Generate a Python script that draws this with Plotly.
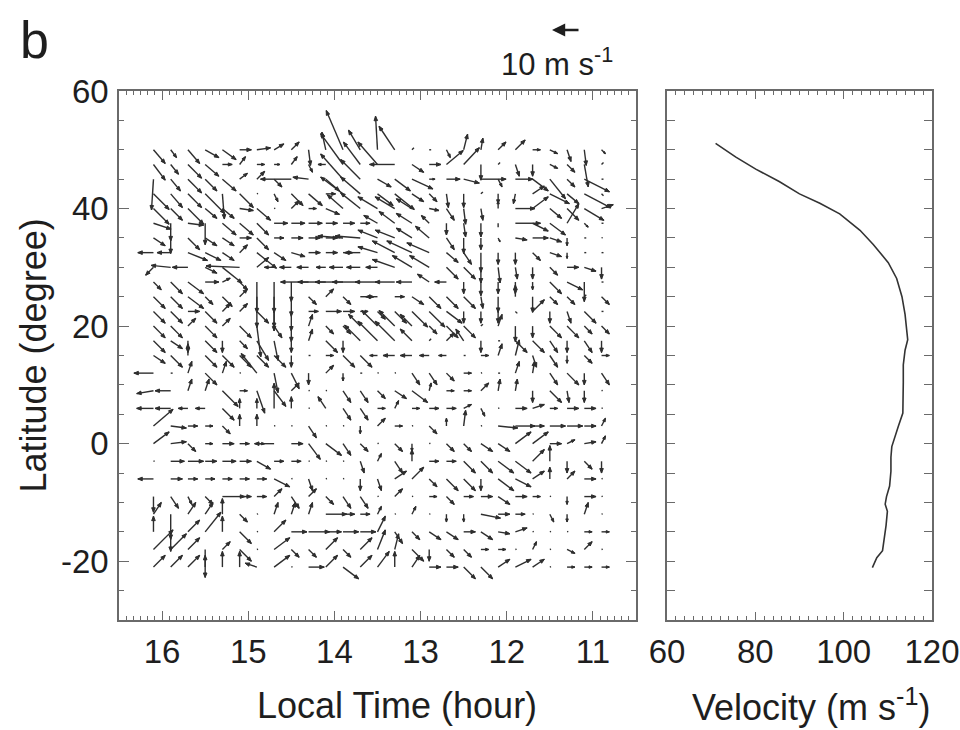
import math
import plotly.graph_objects as go

# ---------------- data ----------------
# local-time columns of the wind-vector grid (hours)
local_time = [16.1, 15.9, 15.7, 15.5, 15.3, 15.1, 14.9, 14.7, 14.5, 14.3, 14.1, 13.9, 13.7, 13.5,
              13.3, 13.1, 12.9, 12.7, 12.5, 12.3, 12.1, 11.9, 11.7, 11.5, 11.3, 11.1, 10.9]

# latitude of each grid row (degrees)
lat_rows = [50, 47.5, 45, 42.5, 40, 37.5, 35, 32.5, 30, 27.5, 25, 22.5, 20, 17.5,
            15, 12, 9, 6, 3, 0, -3, -6, -9, -12, -15, -18, -21]

# residual wind components (m/s); u positive toward earlier local time, v positive northward
u_rows = [
    [4.2, 2.1, 4.2, 4.9, 4.9, 4.2, 4.9, 3.5, 2.8, 0.7, -1.4, -6, -4.2, -0.7, -5.6, 0.7, 0.7, 1.4, 1.4, 0.7, 2.8, 3.5, 2.8, 2.8, 1.4, 0.7, 1.4],
    [4.2, 2.8, 4.9, 4.9, 3.5, 2.1, 2.8, 2.1, 2.1, 1.4, -2.8, -8, -6, -7, -9, 4.2, 4.2, 6, 5.6, 0, 0.7, 1.4, 0, 2.8, 2.8, 1.4, 0.7],
    [-0.7, 3.5, 4.9, 4.2, 4.9, 2.8, 2.8, 2.8, -11, -5.6, 4.9, -8, -7, 4.9, 5.6, 7.5, 2.1, 4.9, 5.6, 9, 1.4, 6.3, 5.6, 5.6, 2.8, 9, 0.7],
    [5.6, 4.2, 4.9, 7, 0.7, 4.9, 0.3, 1.4, 4.2, 4.9, 3.5, -8, -7, 5.6, 7, 4.2, 2.8, 0.7, 0, 0.7, 0, -0.7, 4.2, 7, 4.2, 9.5, 0.7],
    [5.6, 4.2, 5.6, 4.2, 4.2, 4.9, 4.9, 0.3, 2.8, 2.8, 4.9, -5.6, -7, -7, -7, -5.6, 3.5, 2.8, 0.7, 0.7, 0, 7, 5.6, 4.2, 4.2, 7, 4.2],
    [6.3, 0, 5.6, 0, 4.9, 4.9, 4.2, 4.9, 4.9, 4.9, 4.2, 4.2, 3.5, -4.9, -5.6, -5.6, -2.8, 0, 0.7, 0, 0, 9, 5.6, 5.6, 4.2, 1.4, 0.7],
    [4.2, 0, 4.2, 4.2, 4.2, 4.2, 4.2, 3.5, 4.2, 4.2, 4.2, -9, -9, -7, -7, -5.6, -4.9, 2.8, 0, 0, 0.7, 4.2, 5.6, 4.2, 0, 0.7, 0.3],
    [-5.6, -4.9, 7, 5.6, 4.2, 2.8, 7, 4.2, 4.9, 4.2, 4.2, 3.5, -5.6, -7, -8, -9, -8, 4.2, 2.8, 0, 0, 0, 2.8, 4.2, 0, 0.7, 0.7],
    [-2.8, -7, -5.6, 4.2, 7, -12, 4.2, -3.5, -4.2, -4.2, -3.5, -4.9, -4.9, -4.2, -8, -7, -7, 4.2, 4.2, 0, 0.7, 0.7, 0, 2.8, 4.2, 4.2, 0],
    [2.8, 4.2, 5.6, 4.9, 2.8, 2.8, 0, 0, 0, -10, -10, -10, -10, -8, -7, -5.6, -4.2, -4.2, 0, 0, 0, 0, 0, 4.2, 5.6, 0, 0.7],
    [4.2, 4.2, 5.6, 2.8, 3.5, 2.8, 0, 0, 0, 2.8, 2.8, 2.8, 4.9, -4.2, 3.5, 4.2, 4.2, 4.2, 4.2, 0.7, 0, 0, 0, 2.8, 2.8, 0.7, 2.8],
    [4.2, 4.2, 4.2, 4.2, 2.8, 2.8, 4.2, 0, 0, 3.5, 5.6, 4.2, 2.8, 2.8, 4.2, 5.6, 5.6, 5.6, 0, 0, 0, 0.7, 4.2, 0, 1.4, 4.2, 0.7],
    [4.2, 4.2, 2.8, 4.2, 2.8, 4.2, 1.4, 2.8, 0, 1.4, 2.8, 2.8, -4.2, -5.6, -5.6, -4.2, 2.8, 4.2, 4.2, 0.7, 1.4, 0, 0, 4.2, 4.2, 2.8, 2.8],
    [4.2, 4.2, 0, 4.2, 0, 2.8, 4.2, 1.4, 0, 1.4, 4.2, 0, -5.6, -7, -7, -4.2, 0.7, 2.8, -2.8, 0, 0.7, 4.2, 4.2, 2.8, 0, 2.8, 0],
    [4.2, 4.2, 0, 4.2, 4.2, 4.2, 4.2, 4.2, 0, 0.7, 2.8, 4.2, 4.2, -2.8, -4.2, -4.2, -3.5, -2.8, 0.7, 2.8, 1.4, 1.4, 1.4, 2.8, 0, 2.8, 2.8],
    [-7, 0.7, 1.4, 4.2, 1.4, 0.3, -5.6, 1.4, 2.8, 0, 2.8, 0, 0.7, 0.3, 0.3, 2.8, 2.8, 2.8, 2.8, 0.3, 0.7, 1.4, 0.7, 2.8, 4.2, 0, 2.8],
    [-6, -5.6, 1.4, 1.4, 5.6, 2.8, 2.8, 4.2, 2.8, 0.3, 0.3, 2.8, 2.8, 2.8, 4.2, 5.6, 0.7, 2.8, 2.8, 2.8, 0.7, 0.7, 0, 4.2, 0.7, 0, 0.3],
    [-6, -5.6, -3.5, -3.5, 4.2, 0, 0, 0, 0, 0.3, -2.8, 2.8, 2.8, 2.8, 1.4, 2.8, 3.5, 3.5, 2.8, 1.4, 0.3, 4.2, 4.2, 2.8, 4.2, 4.2, 0.3],
    [7, 5.6, 3.5, 2.8, 2.8, 0, 0, 0.3, 0.3, 2.8, 0.3, 0.3, 0, 2.8, 2.8, 0.3, 2.8, 0, 0.7, 0.3, 7, 7, 4.2, 5.6, 5.6, 4.2, 1.4],
    [5.6, 5.6, 2.8, 2.8, 4.2, 3.5, 2.8, -7, 4.2, 4.2, 5.6, 2.8, 2.8, 0.3, 2.8, 0, 0.3, 2.8, 2.8, 4.2, 4.2, 5.6, 5.6, 4.2, 2.8, 4.2, 1.4],
    [0.3, 4.9, 5.6, 4.2, 4.9, 4.2, 4.9, 3.5, 3.5, 0.3, 0.3, 0.3, 1.4, 1.4, 2.8, 0, 3.5, 3.5, 4.2, 4.2, 5.6, 5.6, 4.2, 0, 0, 2.8, 0],
    [-5.6, 4.2, 3.5, 3.5, 3.5, 3.5, 3.5, 5.6, 0.3, 1.4, 0.3, 0.3, 0, 1.4, 4.2, 4.2, 2.8, 4.2, 4.2, 0, 5.6, 5.6, 4.2, 0, 2.8, 4.2, 0.3],
    [0, 2.8, 1.4, 2.8, 8, 4.2, 3.5, 2.8, 2.8, 2.8, 2.8, 2.8, 2.8, 0.3, 2.8, 0.3, 2.8, 2.8, 3.5, 4.2, 4.2, 4.2, 2.8, 0.3, 0, 4.2, 0.3],
    [2.8, 0, 2.8, 2.8, 0, 2.8, 0.3, 1.4, 1.4, 1.4, 7.5, 4.2, 3.5, 1.4, 0.3, 1.4, 0.3, 0, 0, 7, 4.2, 3.5, 0.3, 1.4, 0, 1.4, 0.3],
    [0, 0, 4.2, 5.6, 0, 4.2, 0.3, 4.2, 5.6, 7.5, 5.6, 5.6, 5.6, 2.8, 2.8, 2.8, 4.2, 4.2, 4.2, 4.2, 4.2, 4.2, 0.3, 0.3, 0.3, 2.8, 2.8],
    [7, 5.6, 4.2, 0, 2.8, 4.2, 0.3, 5.6, 2.8, 2.8, 4.2, 2.8, 4.2, 2.8, 1.4, 4.2, 0, 2.8, 2.8, 2.8, 2.8, 0.3, 1.4, 0.3, 2.8, 2.8, 0.3],
    [4.2, 4.2, 4.2, 0, 0, 0, -4.2, 5.6, 0.3, 5.6, 4.2, 5.6, 4.2, 4.2, 0, 2.8, 4.2, 4.2, 4.2, 4.2, 4.2, 5.6, 4.2, 0.3, 2.8, 2.8, 2.8],
]
v_rows = [
    [-4.9, -2.8, -4.9, -2.8, -3.5, 0, 0.7, 2.1, 2.8, -5.6, 6.3, 14, 7, 12, 8.4, 0.7, 0, -2.8, 5.6, 4.2, 2.8, 3.5, 0, -1.4, -4.2, -5.6, -1.4],
    [-5.6, -3.5, -4.9, -4.2, 0, 2.8, 0, 0, 2.8, -2.8, 0, 11, 8, 8, 0, -2.8, 0, 5, 6, -5.6, 0.7, -4.2, -4.2, -1.4, -2.8, -8, 0.7],
    [-11, -4.2, -4.9, -4.2, -4.2, 2.1, 2.8, -2.8, 0, 0.7, -4.2, 9, 7, -2.8, -4.2, -3.5, 0, 0, -1.4, 0, -2.8, 0, -4.2, -7, -2.8, -4.5, 0],
    [-5.6, -4.9, -4.9, -7, -9, -4.9, 0.3, -2.8, -4.2, -4.2, 0, 6, 6, -4.2, -5.6, -2.8, -2.8, -4.9, -4.9, 0.7, -3.5, -3.5, 2.8, -3.5, -3.5, -5, -0.7],
    [-5.6, -4.2, -5.6, -3.5, -3.5, -0.7, -4.2, 0, 2.8, 0, -2.1, 4.9, 5.6, 4.2, 4.2, 3.5, -0.7, -4.2, -5.6, -4.2, 2.8, 0, 4.2, -3.5, -4.2, -4.2, 1.4],
    [-2.1, -6.3, -0.7, -7.7, -4.2, -4.2, -4.2, 0, 0, 0, 0, 0, 0, 2.8, 4.2, 3.5, 2.8, -4.2, -4.9, -4.9, -1.4, 0, -2.8, -4.2, 7, -1.4, 0],
    [-2.8, -5.6, -4.2, -2.8, -2.8, 0, -4.2, 0, 0, 0, 0, 0.7, 0.7, 2.8, 2.8, 3.5, 4.2, -4.2, -5.6, -4.2, -1.4, -0.7, 0, -1.4, -2.8, 0, 0],
    [0, 0, -2.8, -2.8, -2.8, 2.8, -5.6, -2.8, -1.4, 0, 0, 0, 0, 2.1, 4.2, 4.2, 3.5, -3.5, -4.2, -7, -4.2, -4.2, -2.8, -1.4, -2.1, 0, 0],
    [-2.8, 0.7, 0, -2.1, -5.6, 0.5, 3.5, 0, 0, 0, 0, 0, 0, 0, 2.8, 4.2, 4.2, -4.2, -4.2, -5.6, -5.6, -4.2, -4.2, -2.8, 0, -1.4, -4.2],
    [-2.8, -4.2, -4.2, 0, 1.4, -2.8, -11, -11, -7, 0, 0, 0, 0, 0, 0, 0, 2.8, 0, -4.2, -4.9, -4.2, -4.2, -2.8, -4.2, -2.8, -7, 0],
    [-4.2, -4.2, -4.2, -2.8, -3.5, 2.8, -11, -11, -7, -2.8, 2.8, -2.8, 0, 0, 0, -2.8, -4.2, -4.2, -4.2, -4.2, -5.6, 4.2, -5.6, -2.8, -2.8, 0.7, -2.8],
    [-4.2, -4.2, 0, -4.2, 2.8, 2.8, -4.2, -7, -7, 0, 0, 0, 0, -2.8, -4.2, -5.6, -5.6, -4.2, -4.2, -4.2, -4.2, -0.7, 4.2, -4.2, -4.2, -4.2, 0],
    [-4.2, -4.2, 2.8, -4.2, 2.8, -4.2, -11, -4.2, -5.6, 4.2, -2.8, -2.8, 4.2, 5.6, 5.6, 4.2, -2.8, -4.2, -4.2, 0.7, 4.2, -5.6, -4.2, -4.2, -4.2, -2.8, -2.8],
    [-4.2, -2.8, -4.2, -4.2, -4.2, -2.8, -7, -7, -4.2, 4.2, -4.2, -4.2, 5.6, 7, 7, 4.2, 0.7, 2.8, 4.2, -4.2, 0, -4.2, -4.2, -4.2, -4.2, -4.2, -4.2],
    [-2.8, -4.2, 4.2, -4.2, -4.2, -4.2, -4.2, -4.2, -4.2, 0, 0, -4.2, -4.2, 0, 0, 0, 0, 0, 0, 0, 4.2, 5.6, -4.2, -4.2, -2.8, -2.8, 0],
    [0, 0, 4.2, -4.2, 4.2, 0, 7, -7, -5.6, -4.2, 2.8, -2.8, 0, 0, 0, -4.2, -4.2, -2.8, 0, 0, 0, 4.2, 4.2, -4.2, -4.2, -4.2, -4.2],
    [-1, 0, 4.2, 4.2, -5.6, 0, -8, -5.6, 2.8, 0, 0, -4.2, -4.2, -2.8, -2.8, -4.2, 2.8, 0, 0, 2.8, 4.2, 4.2, -4.2, -4.2, -4.2, -4.2, 0],
    [0, 0, 0, 0, -4.2, 3.5, 3.5, 9, 4.2, 0, 4.2, -4.2, -4.2, 0, 2.8, 0, 0, 0, 1.4, -2.8, 0, 0, 1.4, 0, 0, 0, 0.3],
    [6, -0.7, 0, 0, -2.8, 4.2, 4.2, 0, 0.3, -4.2, 0, 0, -2.8, 2.8, 0, 0, -2.8, 2.8, 5.6, 0, -0.7, 0, 0, 0, 0, 0, 2.8],
    [4.2, 0.7, -2.8, 0, 0, 0, 0, 0, 0, -5.6, -4.2, -4.2, -2.8, 0, -2.8, -2.8, 0, -2.8, -2.8, -2.8, -2.8, 4.2, 4.2, 0, 1.4, 0.7, 2.8],
    [0, 0, 0, 0, 0, 0, -2.8, 0, 0, 0, 0, 0, -4.2, 2.8, -4.2, 4.2, 0, 0, -4.2, -4.2, -4.2, -4.2, 4.2, 5.6, -4.2, -2.8, -4.2],
    [0, 0, 0, 0, 0, 0, 0, -2.8, 0, -4.2, 0, 0, -4.2, -4.2, 2.8, 4.2, -2.8, -4.2, -4.2, -4.2, -4.2, -2.8, 2.8, 4.2, 2.8, 0, 0],
    [-5.6, -4.2, -2.8, -2.8, 0, 0, 0, 2.8, -4.2, 2.8, -2.8, -4.2, -4.2, 0, 2.8, 0, 0, -2.8, 0, 0, -2.8, 0, 0, 0, -2.8, 0, 0],
    [4.2, -9, 4.2, 4.2, 5.6, -2.8, 0, 4.2, 4.2, 4.2, 0, 0, 0, 2.8, 0, 2.8, 0, -2.8, -2.8, -1.4, 0, 0, 0, -2.8, -2.8, 4.2, 0],
    [5.6, -7, 4.2, 7, 5.6, -4.2, 0, 4.2, 0, 0, 0, 0, 0, 5.6, -4.2, -2.8, -2.8, -2.8, 0, -2.8, -0.7, 1.4, 0, 0, 0, 0, 0],
    [7, 5.6, 4.2, -10, 2.8, -4.2, 0, 4.2, -2.8, -2.8, 4.2, -2.8, 4.2, 7, 5.6, -4.2, -4.2, -2.8, -2.8, 0, 0, 0, 2.8, 0, -1.4, 2.8, 0],
    [4.2, 4.2, 4.2, 4.2, 5.6, 5.6, 1.4, 4.2, 0, 0, 4.2, -4.2, 4.2, 5.6, 5.6, 4.2, 0, 0, -4.2, -4.2, 2.8, 2.8, 2.8, 0, 0, 0, 0],
]

# zonal-mean westward velocity profile
profile_lat = [51.1, 48.75, 46.7, 44.6, 42.5, 40.9, 39.1, 36.3, 33.9, 30.8, 28.1, 25.0, 22.0, 19.5,
               17.7, 15.9, 13.4, 10.4, 7.3, 5.2, 3.0, 1.2, -0.5, -2.3, -4.7, -7.2, -9.0, -10.3,
               -11.5, -13.9, -16.4, -18.2, -19.4, -21.1]
profile_vel = [71.0, 75.6, 80.1, 85.4, 90.0, 94.6, 99.1, 103.7, 106.7, 110.1, 112.0, 113.2, 113.9, 114.3,
               114.5, 113.9, 113.5, 113.5, 113.5, 113.4, 112.4, 111.6, 110.9, 110.7, 110.7, 110.4, 109.7, 109.4,
               109.9, 109.6, 109.2, 108.8, 107.5, 106.5]

lat_ticks = [-20, 0, 20, 40, 60]
lat_tick_text = ["-20", "0", "20", "40", "60"]

reference_speed = 10  # m/s, length key

# ---------------- layout geometry ----------------
FIG_W, FIG_H = 960, 730
LEFT_DOM = [119 / FIG_W, 636 / FIG_W]
RIGHT_DOM = [667 / FIG_W, 932 / FIG_W]
Y_DOM = [1 - 620 / FIG_H, 1 - 91 / FIG_H]
LT_RANGE = [16.5, 10.5]
LAT_RANGE = [-30, 60]
VEL_RANGE = [60, 120]
PX_PER_MS = 2.8  # arrow length in screen pixels per m/s

FONT = "Liberation Sans, Arial, Helvetica, sans-serif"
INK = "#2e2e2e"
FRAME = "#6a6a6a"

px_hr = (LEFT_DOM[1] - LEFT_DOM[0]) * FIG_W / abs(LT_RANGE[0] - LT_RANGE[1])
px_deg = (Y_DOM[1] - Y_DOM[0]) * FIG_H / (LAT_RANGE[1] - LAT_RANGE[0])
x_dir = -1 if LT_RANGE[0] > LT_RANGE[1] else 1


def offset(lt, lat, dxp, dyp):
    """Shift a data point by a screen-pixel offset (right, up)."""
    return lt + x_dir * dxp / px_hr, lat + dyp / px_deg


shaft_x, shaft_y, head_x, head_y = [], [], [], []
for lat, urow, vrow in zip(lat_rows, u_rows, v_rows):
    for lt, u, v in zip(local_time, urow, vrow):
        dxp, dyp = u * PX_PER_MS, v * PX_PER_MS
        length = math.hypot(dxp, dyp)
        tip = offset(lt, lat, dxp, dyp)
        if length < 1.5:
            end = offset(lt, lat, 1.2, 0.4)
            shaft_x += [lt, end[0], None]
            shaft_y += [lat, end[1], None]
            continue
        shaft_x += [lt, tip[0], None]
        shaft_y += [lat, tip[1], None]
        if length >= 4:
            hl = min(4.5, 0.4 * length)
            hw = 0.4 * hl
            ex, ey = dxp / length, dyp / length
            bx, by = dxp - ex * hl, dyp - ey * hl
            p1 = offset(lt, lat, bx - ey * hw, by + ex * hw)
            p2 = offset(lt, lat, bx + ey * hw, by - ex * hw)
            head_x += [tip[0], p1[0], p2[0], tip[0], None]
            head_y += [tip[1], p1[1], p2[1], tip[1], None]

fig = go.Figure()
fig.add_trace(go.Scatter(x=shaft_x, y=shaft_y, mode="lines", xaxis="x", yaxis="y",
                         line=dict(color=INK, width=1.4), hoverinfo="skip", showlegend=False))
fig.add_trace(go.Scatter(x=head_x, y=head_y, mode="lines", xaxis="x", yaxis="y", fill="toself",
                         fillcolor=INK, line=dict(color=INK, width=1), hoverinfo="skip",
                         showlegend=False))
fig.add_trace(go.Scatter(x=profile_vel, y=profile_lat, mode="lines", xaxis="x2", yaxis="y2",
                         line=dict(color="#333333", width=1.6), hoverinfo="skip", showlegend=False))

tick_font = dict(family=FONT, size=33, color="#1e1e1e")
common = dict(showline=True, linecolor=FRAME, linewidth=1.5, mirror="allticks", ticks="inside",
              tickcolor=FRAME, tickwidth=1.2, showgrid=False, zeroline=False, tickfont=tick_font,
              automargin=False)

fig.update_layout(
    width=FIG_W, height=FIG_H,
    margin=dict(l=0, r=0, t=0, b=0, autoexpand=False),
    paper_bgcolor="white", plot_bgcolor="white",
    xaxis=dict(domain=LEFT_DOM, range=LT_RANGE, anchor="y", tickmode="linear", tick0=11, dtick=1,
               ticklen=9, ticklabelstandoff=2,
               minor=dict(dtick=1 / 12, tick0=11, ticklen=4, ticks="inside", tickcolor=FRAME),
               **common),
    yaxis=dict(domain=Y_DOM, range=LAT_RANGE, anchor="x", tickmode="array", tickvals=lat_ticks,
               ticktext=lat_tick_text, ticklen=10, ticklabelstandoff=2,
               minor=dict(dtick=5, tick0=0, ticklen=5, ticks="inside", tickcolor=FRAME),
               **common),
    xaxis2=dict(domain=RIGHT_DOM, range=VEL_RANGE, anchor="y2", tickmode="linear", tick0=60, dtick=20,
                ticklen=8, ticklabelstandoff=2,
                minor=dict(dtick=2, tick0=60, ticklen=4, ticks="inside", tickcolor=FRAME),
                **common),
    yaxis2=dict(domain=Y_DOM, range=LAT_RANGE, anchor="x2", tickmode="array", tickvals=lat_ticks,
                ticklen=8, showticklabels=False,
                minor=dict(dtick=5, tick0=0, ticklen=8, ticks="inside", tickcolor=FRAME),
                **common),
)

title_font = dict(family=FONT, size=36, color="#1e1e1e")
annotations = [
    dict(text="b", x=34 / FIG_W, y=1 - 40 / FIG_H, xref="paper", yref="paper", showarrow=False,
         font=dict(family=FONT, size=52, color="#1e1e1e"), xanchor="center", yanchor="middle"),
    dict(text="Latitude (degree)", x=33 / FIG_W, y=sum(Y_DOM) / 2, xref="paper", yref="paper",
         showarrow=False, textangle=-90, font=title_font, xanchor="center", yanchor="middle"),
    dict(text="Local Time (hour)", x=397 / FIG_W, y=1 - 705 / FIG_H, xref="paper", yref="paper",
         showarrow=False, font=title_font, xanchor="center", yanchor="middle"),
    dict(text="Velocity (m s<sup>-1</sup>)", x=811 / FIG_W, y=1 - 705 / FIG_H, xref="paper",
         yref="paper", showarrow=False, font=title_font, xanchor="center", yanchor="middle"),
    dict(text="10 m s<sup>-1</sup>", x=557 / FIG_W, y=1 - 62 / FIG_H, xref="paper", yref="paper",
         showarrow=False, font=dict(family=FONT, size=31, color="#1e1e1e"),
         xanchor="center", yanchor="middle"),
    # velocity key: a westward arrow of the reference speed
    dict(text="", x=552 / FIG_W, y=1 - 30 / FIG_H, xref="paper", yref="paper",
         showarrow=True, ax=reference_speed * PX_PER_MS, ay=0, arrowhead=2, arrowsize=1.1,
         arrowwidth=2.4, arrowcolor="#1e1e1e", standoff=0, startstandoff=0),
]
fig.update_layout(annotations=annotations)

fig.write_html("out.html")
